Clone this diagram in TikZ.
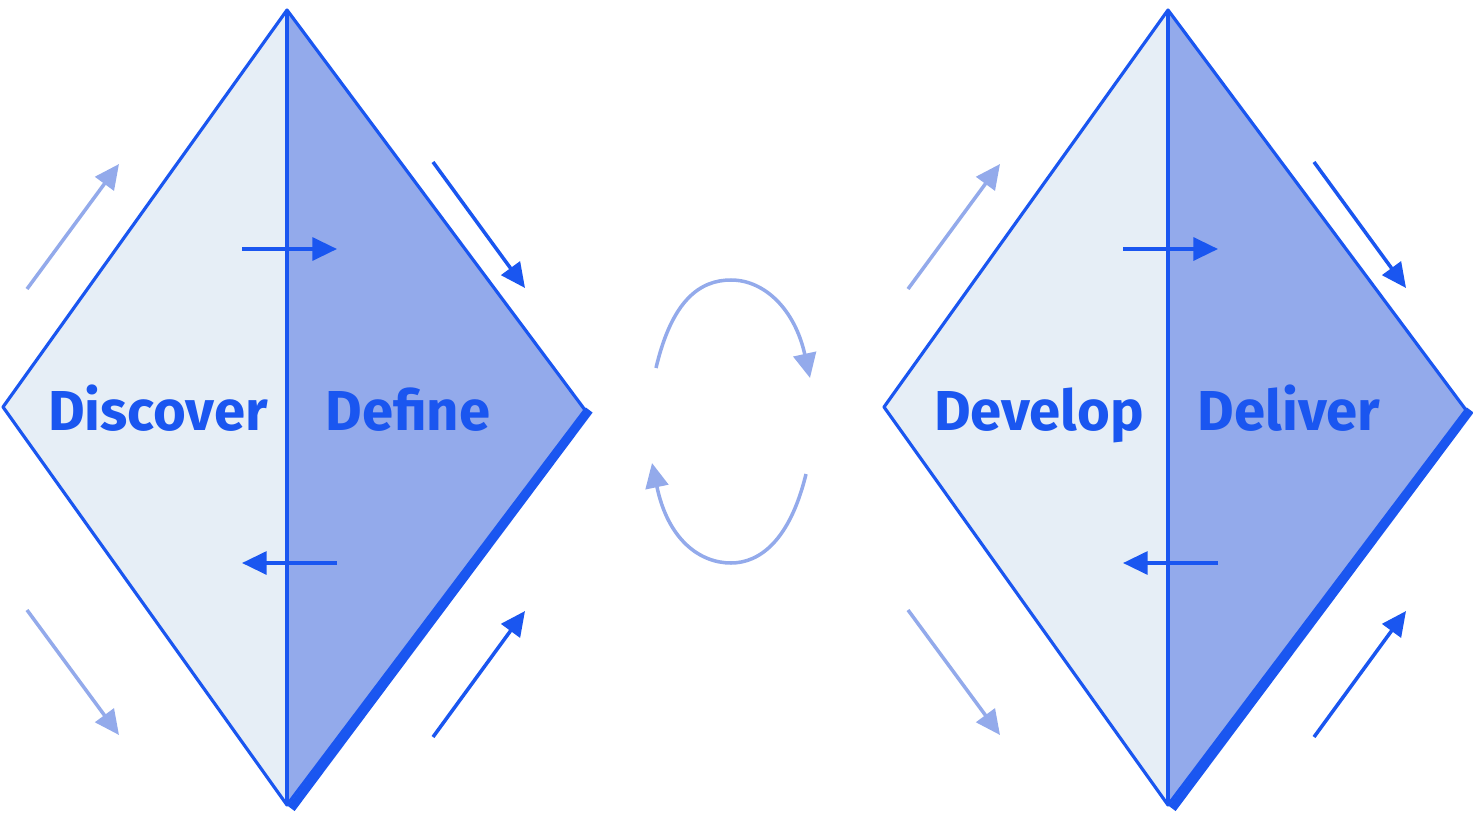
\documentclass[tikz,border=0pt]{standalone}
\usepackage{fontspec}
\setmainfont{Fira Sans}
\usetikzlibrary{arrows.meta}
\definecolor{dblue}{HTML}{1A56F0}
\definecolor{lblue}{HTML}{93AAEB}
\definecolor{pale}{HTML}{E6EEF6}
\tikzset{
  lbl/.style={text=dblue,font=\fontsize{16}{19}\selectfont\bfseries,inner sep=0pt,anchor=base},
  arr/.style={-{Triangle[length=7pt,width=6.5pt]},line width=1pt},
  loop/.style={-{Triangle[length=7pt,width=6.5pt]},line width=1pt,lblue}
}
\begin{document}
\begin{tikzpicture}[x=0.01cm,y=-0.01cm]
    \useasboundingbox (0,0) rectangle (1473,818);
    % two diamonds
    \foreach \dx/\a/\b in {0/Discover/Define,881/Develop/Deliver}{
    \begin{scope}[xshift=\dx*0.01cm]
        \coordinate (T) at (287,10);
        \coordinate (L) at (3,407);
        \coordinate (B) at (287,805);
        \coordinate (R) at (585,410);
        \fill[pale] (T) -- (L) -- (B) -- cycle;
        \fill[lblue] (T) -- (R) -- (B) -- cycle;
        \draw[dblue,line width=2.4pt] ([xshift=1.2pt]R) -- ([xshift=1.2pt,yshift=-1pt]B);
        \draw[dblue,line width=0.9pt,line join=round] (T) -- (L) -- (B) -- (R) -- cycle;
        \draw[dblue,line width=0.9pt] (T) -- (B);
        \node[lbl] (n1) at (158,430) {\a};
        \node[lbl] (n2) at (408,430) {\b};
        \draw[arr,lblue] (27,289) -- (119,164);
        \draw[arr,lblue] (27,610) -- (119,735);
        \draw[arr,dblue] (433,162) -- (525,288);
        \draw[arr,dblue] (433,737) -- (525,611);
        \draw[arr,dblue] (242,249) -- (337,249);
        \draw[arr,dblue] (337,563) -- (242,563);
    \end{scope}}
    % loop arrows
    \draw[loop] (656,368) .. controls (672,300) and (700,280) .. (731,280)
        .. controls (765,280) and (795,310) .. (810,378);
    \draw[loop] (806,474) .. controls (790,540) and (760,563) .. (731,563)
        .. controls (700,563) and (668,540) .. (652,463);
\end{tikzpicture}
\end{document}
